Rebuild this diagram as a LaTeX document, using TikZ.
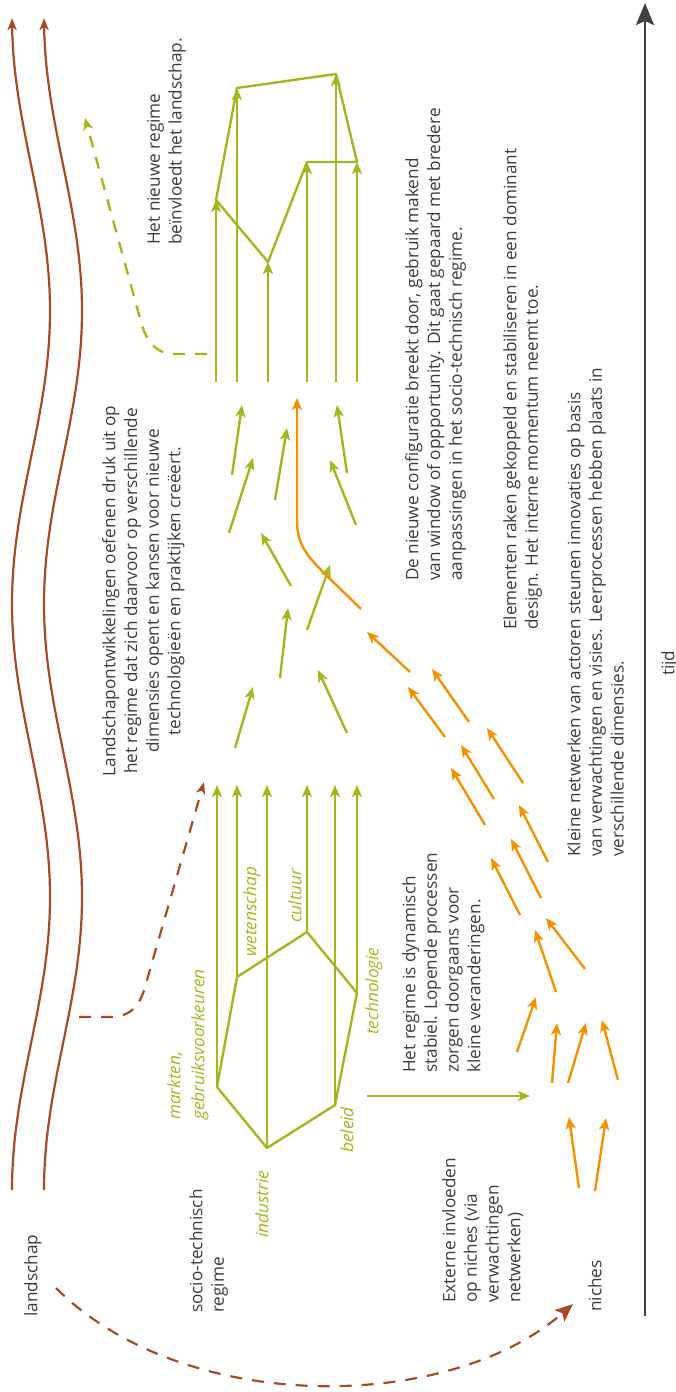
\documentclass[tikz,border=0pt]{standalone}
\usepackage{fontspec}
\setmainfont{Open Sans}
\usetikzlibrary{arrows.meta}
\definecolor{mlpgreen}{RGB}{156,186,30}
\definecolor{mlporange}{RGB}{243,146,0}
\definecolor{mlpbrown}{RGB}{166,75,38}
\definecolor{mlptext}{RGB}{60,60,60}
\definecolor{mlpaxis}{RGB}{64,64,64}
\tikzset{
  txt/.style={rotate=90,anchor=north west,align=left,inner sep=0pt,text=mlptext,font=\fontsize{17.2}{21.7}\selectfont},
  lbl/.style={rotate=90,anchor=north west,align=left,inner sep=0pt,text=mlpgreen,font=\fontsize{17.2}{24}\selectfont\itshape},
  garr/.style={draw=mlpgreen,line width=2.4pt,-{Stealth[length=12pt,width=10pt,inset=3pt]}},
  gline/.style={draw=mlpgreen,line width=2.4pt,line join=round},
  oarr/.style={draw=mlporange,line width=2.4pt,-{Stealth[length=12pt,width=10pt,inset=3pt]}},
  barr/.style={draw=mlpbrown,line width=2.2pt,-{Stealth[length=12pt,width=9pt,inset=3pt]}},
  bdash/.style={barr,dash pattern=on 12pt off 10pt}
}
\begin{document}
\begin{tikzpicture}[x=1pt,y=-1pt]
\useasboundingbox (0,0) rectangle (676,1392);
% landschap
\draw[barr] plot[domain=1190:18,samples=80,smooth] ({31-19*cos(0.6143*(\x-18))},\x);
\draw[barr] plot[domain=1190:18,samples=80,smooth] ({63-19*cos(0.6143*(\x-18))},\x);
% oud regime
\coordinate (markten) at (217,1087);
\coordinate (wetenschap) at (237,977);
\coordinate (industrie) at (267,1148);
\coordinate (cultuur) at (307,932);
\coordinate (beleid) at (335,1105);
\coordinate (technologie) at (357,993);
\coordinate (oudtop) at (0,785);
\draw[gline] (markten) -- (wetenschap) -- (cultuur) -- (technologie) -- (beleid) -- (industrie) -- cycle;
\foreach \v in {markten,wetenschap,industrie,cultuur,beleid,technologie}
  \draw[garr] (\v) -- (\v |- oudtop);
\node[lbl] (lmarkten) at (167,1120) {markten,\\gebruiksvoorkeuren};
\node[lbl] (lwetenschap) at (243,957) {wetenschap};
\node[lbl] (lcultuur) at (288,923) {cultuur};
\node[lbl] (ltechnologie) at (365,1035) {technologie};
\node[lbl] (lbeleid) at (340,1153) {beleid};
\node[lbl] (lindustrie) at (255,1238) {industrie};
\draw[garr] (367,1096) -- (530,1096);
% nieuw regime
\coordinate (n1) at (216,200);
\coordinate (n2) at (237,88);
\coordinate (n3) at (268,262);
\coordinate (n4) at (307,162);
\coordinate (n5) at (336,74);
\coordinate (n6) at (357,162);
\coordinate (nieuwvoet) at (0,382);
\draw[gline] (n1) -- (n2) -- (n5) -- (n6) -- (n4) -- (n3) -- cycle;
\foreach \v in {n1,n2,n3,n4,n5,n6}
  \draw[garr] (\v |- nieuwvoet) -- (\v);
% losse elementen
\foreach \a/\b/\c/\d in {232/475/242/405, 229/533/253/458, 275/500/287/428, 347/473/337/405,
  356/525/330/460, 291/586/261/533, 307/630/330/565, 280/678/288/608, 235/748/253/687, 347/733/318/670}
  \draw[garr] (\a,\b) -- (\c,\d);
\foreach \a/\b/\c/\d in {410/672/367/632, 469/722/432/669, 445/737/408/687, 523/783/487/728,
  494/799/461/745, 485/825/451/768, 548/862/519/805, 541/898/511/839, 520/915/491/858,
  585/969/546/918, 556/992/535/930, 517/1052/536/997, 552/1083/557/1023, 568/1083/586/1023,
  618/1080/602/1020, 579/1188/569/1117, 595/1191/606/1118}
  \draw[oarr] (\a,\b) -- (\c,\d);
\draw[oarr] (361,609) -- (327,576) .. controls (307,556) and (297,545) .. (297,520) -- (297,398);
% invloeden
\draw[bdash] (79,1017) -- (110,1017) .. controls (135,1017) and (142,1000) .. (147,980) -- (204,782);
\draw[garr,dash pattern=on 12pt off 10pt] (207,354) -- (175,354) .. controls (155,354) and (146,340) .. (141,322) -- (85,118);
\draw[bdash,-{Stealth[length=18pt,width=15pt,inset=4pt]}] (56,1288) .. controls (183,1415) and (447,1414) .. (573,1304);
% tijd
\draw[draw=mlpaxis,line width=2.6pt,-{Stealth[length=22pt,width=18pt,inset=4pt]}] (645,1316) -- (645,3);
% teksten
\node[txt] (tnieuw) at (147,245) {Het nieuwe regime\\beïnvloedt het landschap.};
\node[txt,anchor=north,align=center] (tdruk) at (102,591) {Landschapontwikkelingen oefenen druk uit op\\het regime dat zich daarvoor op verschillende\\dimensies opent en kansen voor nieuwe\\technologieën en praktijken creëert.};
\node[txt] (tdoorbraak) at (405,581) {De nieuwe configuratie breekt door, gebruik makend\\van window of oppportunity. Dit gaat gepaard met bredere\\aanpassingen in het socio-technisch regime.};
\node[txt] (tkoppeling) at (503,630) {Elementen raken gekoppeld en stabiliseren in een dominant\\design. Het interne momentum neemt toe.};
\node[txt] (tnetwerk) at (567,857) {Kleine netwerken van actoren steunen innovaties op basis\\van verwachtingen en visies. Leerprocessen hebben plaats in\\verschillende dimensies.};
\node[txt] (tstabiel) at (402,1073) {Het regime is dynamisch\\stabiel. Lopende processen\\zorgen doorgaans voor\\kleine veranderingen.};
\node[txt] (textern) at (442,1303) {Externe invloeden\\op niches (via\\verwachtingen\\netwerken)};
\node[txt] (tniches) at (588,1312) {niches};
\node[txt] (tregime) at (189,1313) {socio-technisch\\regime};
\node[txt] (tlandschap) at (24,1317) {landschap};
\node[txt] (ttijd) at (661,676) {tijd};
\end{tikzpicture}
\end{document}
